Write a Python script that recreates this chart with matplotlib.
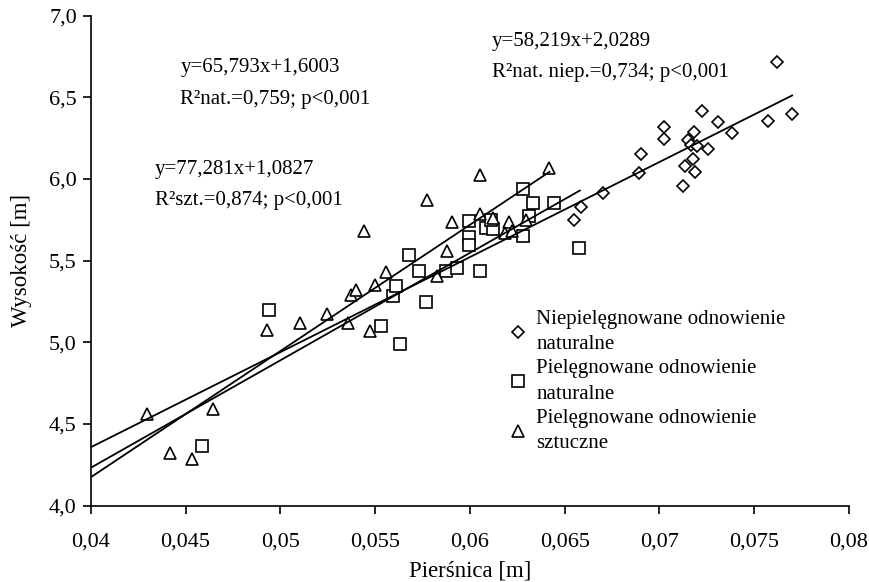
import matplotlib
matplotlib.use("Agg")
import matplotlib.pyplot as plt
import numpy as np

plt.rcParams['font.family'] = ['Liberation Serif', 'DejaVu Serif']

# ---- data ----
diam_x = [0.07618, 0.07700, 0.07574, 0.07226, 0.07309, 0.07384, 0.07025, 0.07022,
          0.07182, 0.07149, 0.07165, 0.07196, 0.07256, 0.07178, 0.07134, 0.07187,
          0.07122, 0.06902, 0.06890, 0.06700, 0.06584, 0.06551]
diam_y = [6.718, 6.397, 6.356, 6.417, 6.352, 6.282, 6.319, 6.248,
          6.285, 6.239, 6.207, 6.203, 6.187, 6.125, 6.080, 6.045,
          5.957, 6.156, 6.035, 5.912, 5.828, 5.747]

sq_x = [0.04940, 0.04587, 0.05531, 0.05631, 0.05596, 0.05609, 0.05767, 0.05680,
        0.05732, 0.05874, 0.05930, 0.06053, 0.05997, 0.05997, 0.05997, 0.06085,
        0.06123, 0.06282, 0.06331, 0.06442, 0.06313, 0.06282, 0.06577, 0.06114]
sq_y = [5.196, 4.366, 5.102, 4.992, 5.282, 5.344, 5.245, 5.532,
        5.436, 5.434, 5.454, 5.434, 5.742, 5.647, 5.595, 5.698,
        5.696, 5.937, 5.851, 5.855, 5.773, 5.650, 5.575, 5.748]

tri_x = [0.04299, 0.04418, 0.04533, 0.04647, 0.04928, 0.05104, 0.05245, 0.05355,
         0.05371, 0.05399, 0.05473, 0.05498, 0.05442, 0.05557, 0.05825, 0.05881,
         0.05772, 0.05904, 0.06053, 0.06123, 0.06208, 0.06185, 0.06220, 0.06053,
         0.06419, 0.06297]
tri_y = [4.561, 4.321, 4.285, 4.591, 5.078, 5.119, 5.174, 5.119,
         5.288, 5.323, 5.072, 5.354, 5.681, 5.430, 5.409, 5.558,
         5.871, 5.739, 5.783, 5.763, 5.739, 5.667, 5.681, 6.025,
         6.070, 5.750]

# regression equations: slope, intercept, x-range
fit_diam = (58.219, 2.0289, 0.040, 0.0770)
fit_sq = (65.793, 1.6003, 0.040, 0.0658)
fit_tri = (77.281, 1.0827, 0.040, 0.0642)

labels = ["Niepielęgnowane odnowienie\nnaturalne",
          "Pielęgnowane odnowienie\nnaturalne",
          "Pielęgnowane odnowienie\nsztuczne"]

xticks = [0.04, 0.045, 0.05, 0.055, 0.06, 0.065, 0.07, 0.075, 0.08]
xticklabels = ["0,04", "0,045", "0,05", "0,055", "0,06", "0,065", "0,07", "0,075", "0,08"]
yticks = [4.0, 4.5, 5.0, 5.5, 6.0, 6.5, 7.0]
yticklabels = ["4,0", "4,5", "5,0", "5,5", "6,0", "6,5", "7,0"]

# ---- figure ----
fig = plt.figure(figsize=(8.69, 5.82), dpi=100)
ax = fig.add_axes([0.1044, 0.1311, 0.977 - 0.1044, 0.973 - 0.1311])

mk = dict(linestyle='none', markerfacecolor='white', markeredgecolor='black',
          markeredgewidth=1.2, clip_on=False)
h1, = ax.plot(diam_x, diam_y, marker='D', markersize=6, **mk)
h2, = ax.plot(sq_x, sq_y, marker='s', markersize=8, **mk)
h3, = ax.plot(tri_x, tri_y, marker='^', markersize=8, **mk)

for a, b, x0, x1 in (fit_diam, fit_sq, fit_tri):
    xs = np.array([x0, x1])
    ax.plot(xs, a * xs + b, color='black', linewidth=1.3)

ax.set_xlim(0.04, 0.08)
ax.set_ylim(4.0, 7.0)
ax.set_xticks(xticks)
ax.set_xticklabels(xticklabels)
ax.set_yticks(yticks)
ax.set_yticklabels(yticklabels)
ax.spines['top'].set_visible(False)
ax.spines['right'].set_visible(False)
for s in ('left', 'bottom'):
    ax.spines[s].set_linewidth(1.2)
ax.tick_params(axis='x', direction='out', length=6, width=1.2, pad=13, labelsize=16)
ax.tick_params(axis='y', direction='out', length=6, width=1.2, pad=4, labelsize=16)

ax.set_xlabel("Pierśnica [m]", fontsize=16.5, labelpad=7)
ax.set_ylabel("Wysokość [m]", fontsize=16.5, labelpad=12)

tf = dict(fontsize=15, ha='left', va='center', transform=ax.transData)
ax.text(0.04473, 6.68, "y=65,793x+1,6003", **tf)
ax.text(0.04473, 6.49, "R²nat.=0,759; p<0,001", **tf)
ax.text(0.04340, 6.06, "y=77,281x+1,0827", **tf)
ax.text(0.04340, 5.87, "R²szt.=0,874; p<0,001", **tf)
ax.text(0.06115, 6.84, "y=58,219x+2,0289", **tf)
ax.text(0.06115, 6.65, "R²nat. niep.=0,734; p<0,001", **tf)

leg = ax.legend([h1, h2, h3], labels, loc='upper left',
                bbox_to_anchor=(0.553, 0.40), frameon=False, fontsize=15,
                handlelength=0.8, handletextpad=0.45, labelspacing=0.25,
                markerscale=1.0, borderaxespad=0, borderpad=0)
for t in leg.get_texts():
    t.set_linespacing(1.45)

fig.savefig("out.png", dpi=100)
